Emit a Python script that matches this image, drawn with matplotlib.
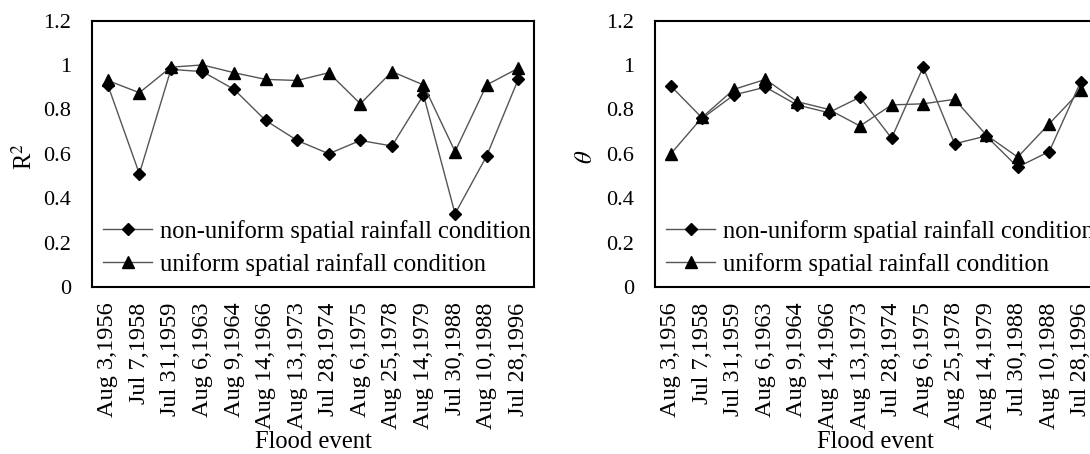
import matplotlib
matplotlib.use('Agg')
import matplotlib.pyplot as plt
import numpy as np

# flood events on the category axis
events = ['Aug 3,1956', 'Jul 7,1958', 'Jul 31,1959', 'Aug 6,1963', 'Aug 9,1964',
          'Aug 14,1966', 'Aug 13,1973', 'Jul 28,1974', 'Aug 6,1975', 'Aug 25,1978',
          'Aug 14,1979', 'Jul 30,1988', 'Aug 10,1988', 'Jul 28,1996']

# coefficient of determination
r2_nonuniform = [0.91, 0.51, 0.98, 0.97, 0.89, 0.75, 0.66, 0.60, 0.66, 0.635,
                 0.865, 0.33, 0.59, 0.935]
r2_uniform = [0.93, 0.875, 0.99, 1.00, 0.965, 0.935, 0.93, 0.965, 0.825, 0.97,
              0.91, 0.61, 0.91, 0.985]

# theta
theta_nonuniform = [0.905, 0.76, 0.865, 0.90, 0.82, 0.785, 0.855, 0.67, 0.99, 0.645,
                    0.68, 0.54, 0.61, 0.925]
theta_uniform = [0.60, 0.765, 0.89, 0.935, 0.835, 0.80, 0.725, 0.82, 0.825, 0.845,
                 0.685, 0.585, 0.735, 0.885]

yticks = [0, 0.2, 0.4, 0.6, 0.8, 1.0, 1.2]
ytick_labels = ['0', '0.2', '0.4', '0.6', '0.8', '1', '1.2']

plt.rcParams['font.family'] = ['Liberation Serif', 'DejaVu Serif']
plt.rcParams['mathtext.fontset'] = 'stix'
FS = 17.7
LINE = '#555555'

fig = plt.figure(figsize=(10.9, 4.54), dpi=100)
ax1 = fig.add_axes([0.0844, 0.3678, 0.4055, 0.587])
ax2 = fig.add_axes([0.601, 0.3678, 0.405, 0.587])


def draw_panel(ax, nonuni, uni, ylabel, ylabel_x):
    x = np.arange(len(events))
    ax.plot(x, nonuni, color=LINE, lw=1.0, marker='D', ms=6.5,
            mfc='black', mec='black', label='non-uniform spatial rainfall condition')
    ax.plot(x, uni, color=LINE, lw=1.0, marker='^', ms=9,
            mfc='black', mec='black', label='uniform spatial rainfall condition')
    ax.set_xlim(-0.5, len(events) - 0.5)
    ax.set_ylim(0, 1.2)
    ax.set_yticks(yticks)
    ax.set_yticklabels(ytick_labels)
    ax.set_xticks(x)
    ax.set_xticklabels(events, rotation=90)
    ax.tick_params(axis='both', length=0)
    ax.tick_params(axis='y', pad=15, labelsize=16)
    ax.tick_params(axis='x', pad=11, labelsize=17.5)
    for sp in ax.spines.values():
        sp.set_linewidth(1.5)
        sp.set_color('black')
    ax.set_xlabel('Flood event', fontsize=FS)
    ax.xaxis.set_label_coords(0.5, -0.54)
    ax.set_ylabel(ylabel, fontsize=FS)
    ax.yaxis.set_label_coords(ylabel_x, 0.49)
    ax.legend(loc='lower left', bbox_to_anchor=(0.003, 0.005), frameon=False,
              fontsize=FS, handlelength=2.0, handletextpad=0.3,
              labelspacing=0.42, borderaxespad=0.2, borderpad=0.2)


draw_panel(ax1, r2_nonuniform, r2_uniform, r'R$^2$', -0.124)
draw_panel(ax2, theta_nonuniform, theta_uniform, r'$\theta$', -0.131)

fig.savefig('out.png', dpi=100)
